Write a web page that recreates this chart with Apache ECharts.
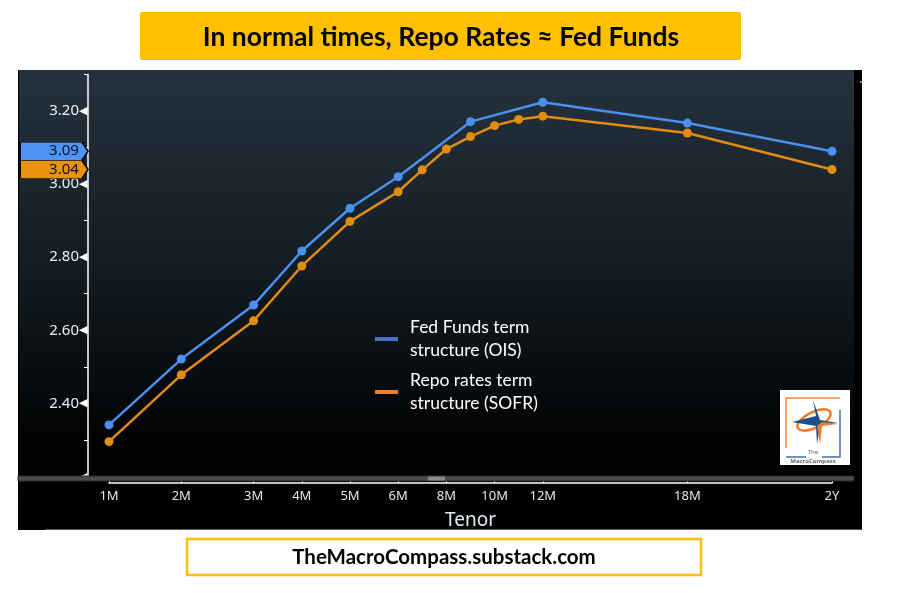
<!DOCTYPE html>
<html><head><meta charset="utf-8">
<script src="https://cdn.jsdelivr.net/npm/echarts@6/dist/echarts.min.js"></script>
<style>html,body{margin:0;padding:0;background:#fff}#c{width:899px;height:593px}</style>
</head><body><div id="c"></div>
<script>
// ---- data ----
const categories = ['1M','1.3M','1.7M','2M','2.3M','2.7M','3M','3.5M','4M','4.5M','5M','5.5M','6M','7M','8M','9M','10M','11M','12M','13M','14M','15M','16M','17M','18M','19M','20M','21M','22M','23M','2Y'];
const tickLabels = ['1M','2M','3M','4M','5M','6M','8M','10M','12M','18M','2Y'];
const oisTenors = ['1M','2M','3M','4M','5M','6M','9M','12M','18M','2Y'];
const oisValues = [2.341,2.521,2.669,2.817,2.934,3.020,3.171,3.224,3.167,3.09];
const sofrTenors = ['1M','2M','3M','4M','5M','6M','7M','8M','9M','10M','11M','12M','18M','2Y'];
const sofrValues = [2.295,2.478,2.626,2.776,2.898,2.979,3.039,3.096,3.130,3.160,3.177,3.186,3.140,3.04];
const oisName = 'Fed Funds term\nstructure (OIS)';
const sofrName = 'Repo rates term\nstructure (SOFR)';
const titleText = 'In normal times, Repo Rates \u2248 Fed Funds';
const footerText = 'TheMacroCompass.substack.com';

const chart = echarts.init(document.getElementById('c'));
const pairs = (t, v) => t.map((k, i) => [k, v[i]]);
const tagPath = 'path://M0,0 L62,0 L68,9 L62,18 L0,18 Z';
function tag(name, vals, color) {
  const last = vals[vals.length - 1];
  return {
    symbol: tagPath, symbolSize: [68, 18], symbolKeepAspect: false,
    symbolOffset: [-55, 0],
    itemStyle: { color: color, borderColor: '#0a0a0a', borderWidth: 1 },
    label: { show: true, position: 'inside', offset: [10, 0], color: '#0d1520', fontSize: 15, fontFamily: 'Noto Sans', formatter: () => last.toFixed(2) },
    data: [{ coord: [categories[0], last], value: last }]
  };
}

const option = {
  animation: false,
  grid: { left: 109, right: 67, top: 74.5, bottom: 116.6, containLabel: false },
  xAxis: {
    type: 'category', data: categories, boundaryGap: false, offset: 6.6,
    name: 'Tenor', nameLocation: 'middle', nameGap: 28,
    nameTextStyle: { color: '#e3ebf3', fontSize: 19, fontFamily: 'Noto Sans' },
    axisLine: { show: true, lineStyle: { color: '#ffffff', width: 1.5 } },
    axisTick: { show: true, inside: true, length: 4, lineStyle: { color: '#ffffff' },
      interval: (i, v) => tickLabels.includes(v) },
    axisLabel: { color: '#dfe8f2', fontSize: 13, fontFamily: 'Noto Sans', margin: 7,
      interval: (i, v) => tickLabels.includes(v) },
    splitLine: { show: false }
  },
  yAxis: {
    type: 'value', min: 2.2, max: 3.3, interval: 0.1, offset: 21,
    axisLine: { show: true, lineStyle: { color: '#ffffff', width: 1.5 } },
    axisTick: { show: true, length: 4, lineStyle: { color: '#ffffff' } },
    axisLabel: {
      margin: 1, color: '#e9f0f7', fontSize: 15, fontFamily: 'Noto Sans',
      formatter: v => {
        const k = Math.round(v * 10);
        if (k % 2 !== 0) return '';
        if (k === 22) return '{t|\u25C0}';
        return v.toFixed(2) + '{t|\u25C0}';
      },
      rich: { t: { fontSize: 11, color: '#ffffff', padding: [0, 0, 0, 0] } }
    },
    splitLine: { show: false }
  },
  legend: {
    orient: 'vertical', left: 370, top: 311, itemWidth: 23, itemHeight: 4, itemGap: 7,
    icon: 'rect', selectedMode: false,
    textStyle: { color: '#ffffff', fontSize: 17.5, fontFamily: 'Lato', lineHeight: 23, padding: [0, 0, 0, 7] },
    data: [
      { name: oisName, itemStyle: { color: '#4472c4' } },
      { name: sofrName, itemStyle: { color: '#ed7d31' } }
    ]
  },
  series: [
    { name: oisName, type: 'line', data: pairs(oisTenors, oisValues), connectNulls: true, clip: false,
      symbol: 'circle', symbolSize: 9, z: 4,
      lineStyle: { color: '#4a90ee', width: 2.5 }, itemStyle: { color: '#4a90ee' },
      markPoint: tag(oisName, oisValues, '#4d94f5') },
    { name: sofrName, type: 'line', data: pairs(sofrTenors, sofrValues), connectNulls: true, clip: false,
      symbol: 'circle', symbolSize: 9, z: 3,
      lineStyle: { color: '#e28c12', width: 2.5 }, itemStyle: { color: '#e28c12' },
      markPoint: tag(sofrName, sofrValues, '#e8920f') }
  ],
  graphic: [
    { type: 'rect', z: -100, shape: { x: 18, y: 70, width: 844, height: 460 }, style: { fill: '#000' } },
    { type: 'rect', z: -99, shape: { x: 19, y: 70, width: 835, height: 460 },
      style: { fill: new echarts.graphic.LinearGradient(0, 0, 0, 1, [
        { offset: 0, color: '#25323d' }, { offset: 0.45, color: '#121b21' },
        { offset: 0.8, color: '#020304' }, { offset: 1, color: '#000000' }]) } },
    { type: 'line', z: -98, shape: { x1: 45, y1: 529.5, x2: 862, y2: 529.5 }, style: { stroke: '#555', lineWidth: 1 } },
    // scrollbar
    { type: 'rect', z: 100, shape: { x: 18, y: 476, width: 836, height: 5 }, style: { fill: '#4b4b4b', stroke: '#2a2a2a', lineWidth: 1 } },
    { type: 'rect', z: 101, shape: { x: 428, y: 476.5, width: 17, height: 4 }, style: { fill: '#8a8a8a' } },
    { type: 'circle', z: 101, shape: { cx: 861, cy: 82, r: 1 }, style: { fill: '#bbb' } },
    // title
    { type: 'rect', z: 50, shape: { x: 140, y: 12, width: 601, height: 48, r: 2 }, style: { fill: '#ffc000' } },
    { type: 'text', z: 51, x: 441, y: 37, style: { text: titleText, fill: '#000', font: 'bold 26.5px Lato', align: 'center', verticalAlign: 'middle' } },
    // footer
    { type: 'rect', z: 50, shape: { x: 187, y: 539, width: 514, height: 36 }, style: { fill: '#fff', stroke: '#ffc000', lineWidth: 2.5 } },
    { type: 'text', z: 51, x: 444, y: 557, style: { text: footerText, fill: '#000', font: 'bold 20.5px Lato', align: 'center', verticalAlign: 'middle' } },
    // logo
    { type: 'group', z: 60, x: 780, y: 390, children: [
      { type: 'rect', shape: { x: 0, y: 0, width: 70, height: 75 }, style: { fill: '#ffffff' } },
      { type: 'polyline', shape: { points: [[6, 58], [6, 8], [60, 8]] }, style: { stroke: '#f08a4b', lineWidth: 1.5, fill: null } },
      { type: 'polyline', shape: { points: [[60, 20], [60, 67], [42, 67]] }, style: { stroke: '#3f6fa8', lineWidth: 1.5, fill: null } },
      { type: 'line', shape: { x1: 6, y1: 67, x2: 26, y2: 67 }, style: { stroke: '#3f6fa8', lineWidth: 1.5 } },
      { type: 'ellipse', shape: { cx: 34, cy: 30, rx: 18, ry: 8 }, rotation: 0.45, originX: 34, originY: 30, style: { stroke: '#f07a2a', lineWidth: 2.5, fill: null } },
      { type: 'polygon', shape: { points: [[33, 10], [36, 26], [12, 32], [36, 36], [37, 54], [40, 35], [58, 33], [40, 30]] }, style: { fill: '#1f4e8c' } },
      { type: 'polygon', shape: { points: [[37, 36], [40, 54], [42, 36], [58, 34], [42, 32]] }, style: { fill: '#f07a2a' } },
      { type: 'text', x: 33, y: 62, style: { text: 'The', fill: '#666', font: '6px Noto Sans', align: 'center', verticalAlign: 'middle' } },
      { type: 'text', x: 33, y: 71, style: { text: 'MacroCompass', fill: '#666', font: 'bold 6px Noto Sans', align: 'center', verticalAlign: 'middle' } }
    ] }
  ]
};
chart.setOption(option);
</script></body></html>
